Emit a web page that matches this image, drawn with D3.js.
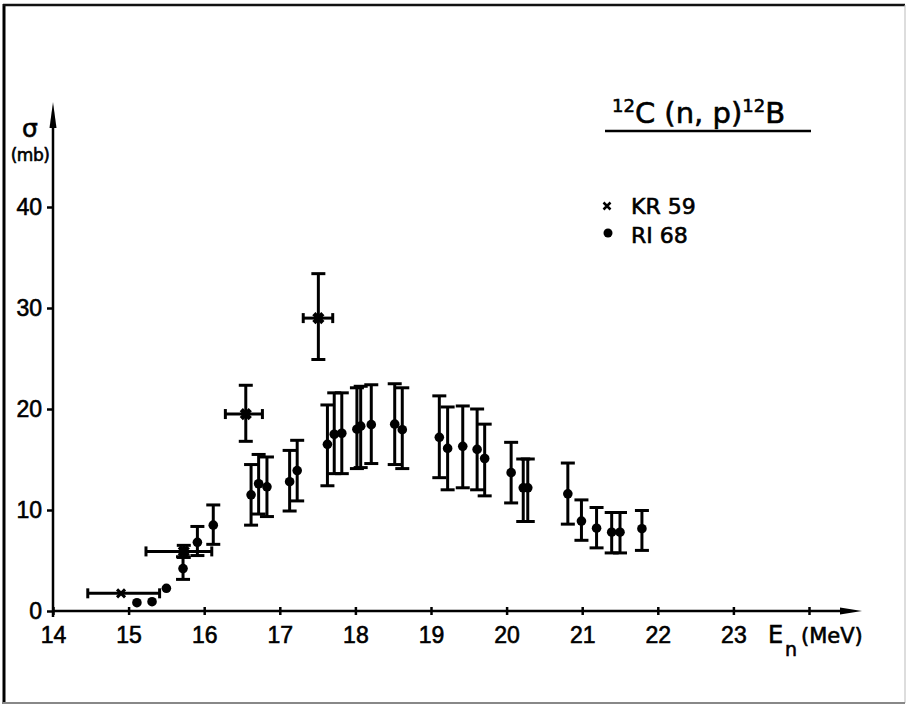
<!DOCTYPE html>
<html>
<head>
<meta charset="utf-8">
<script src="https://cdn.jsdelivr.net/npm/d3@7"></script>
<style>
  html, body { margin: 0; padding: 0; background: #fff; }
  svg { display: block; font-family: "DejaVu Sans", sans-serif; }
  svg text { fill: #000; stroke: #000; stroke-width: 0.6px; }
</style>
</head>
<body>
<svg id="chart" width="907" height="708"></svg>
<script>
// ---- data ----
const xTicks = [14, 15, 16, 17, 18, 19, 20, 21, 22, 23, 24];
const xTickLabels = ["14", "15", "16", "17", "18", "19", "20", "21", "22", "23", ""];
const yTicks = [0, 10, 20, 30, 40];
const yTickLabels = ["0", "10", "20", "30", "40"];

// KR 59 (crosses with energy bins)
const kr59Energy   = [14.90, 15.73, 16.55, 17.51];
const kr59Sigma    = [1.75, 5.9, 19.5, 29.0];
const kr59ELow     = [14.46, 15.23, 16.28, 17.31];
const kr59EHigh    = [15.41, 16.10, 16.77, 17.70];
const kr59SigLow   = [null, 5.3, 16.8, 24.9];
const kr59SigHigh  = [null, 6.5, 22.35, 33.4];

// RI 68 (dots)
const ri68Energy  = [15.11, 15.31, 15.50, 15.72, 15.91, 16.12, 16.62, 16.72, 16.83, 17.13, 17.23,
                     17.63, 17.72, 17.82, 18.02, 18.07, 18.21, 18.52, 18.62, 19.11, 19.22, 19.42,
                     19.61, 19.71, 20.06, 20.22, 20.28, 20.81, 20.99, 21.19, 21.39, 21.50, 21.79];
const ri68Sigma   = [0.82, 0.92, 2.25, 4.2, 6.8, 8.5, 11.5, 12.6, 12.3, 12.8, 13.9,
                     16.5, 17.5, 17.6, 18.0, 18.3, 18.45, 18.5, 17.95, 17.2, 16.1, 16.3,
                     16.0, 15.1, 13.7, 12.2, 12.2, 11.6, 8.9, 8.2, 7.8, 7.8, 8.15];
const ri68SigLow  = [null, null, null, 3.13, 5.49, 6.6, 8.5, 9.6, 9.35, 9.9, 10.9,
                     12.4, 13.6, 13.6, 14.1, 14.2, 14.6, 14.5, 14.1, 13.2, 12.0, 12.2,
                     12.0, 11.4, 10.7, 8.86, 8.86, 8.6, 7.0, 6.25, 5.75, 5.75, 6.0];
const ri68SigHigh = [null, null, null, 5.37, 8.37, 10.5, 14.5, 15.5, 15.25, 15.9, 16.9,
                     20.4, 21.6, 21.6, 22.1, 22.25, 22.4, 22.5, 22.1, 21.3, 20.2, 20.3,
                     20.0, 18.5, 16.7, 15.05, 15.05, 14.65, 11.0, 10.25, 9.75, 9.75, 9.95];

const legendLabels = ["KR 59", "RI 68"];

// ---- drawing ----
const svg = d3.select("#chart");
const x = d3.scaleLinear().domain([14, 24]).range([53, 809]);
const y = d3.scaleLinear().domain([0, 40]).range([611, 207]);

// frame
svg.append("line").attr("x1", 4).attr("x2", 4).attr("y1", 4).attr("y2", 704)
  .attr("stroke", "#000").attr("stroke-width", 3);
svg.append("line").attr("x1", 3).attr("x2", 905).attr("y1", 5).attr("y2", 5)
  .attr("stroke", "#111").attr("stroke-width", 2.5);
svg.append("line").attr("x1", 905).attr("x2", 905).attr("y1", 5).attr("y2", 703)
  .attr("stroke", "#bbb").attr("stroke-width", 1);
svg.append("line").attr("x1", 3).attr("x2", 905).attr("y1", 703).attr("y2", 703)
  .attr("stroke", "#888").attr("stroke-width", 2);

// x axis
const xAxis = d3.axisBottom(x).tickValues(xTicks)
  .tickFormat((d, i) => xTickLabels[i]).tickSizeInner(4).tickSizeOuter(0).tickPadding(10);
const gx = svg.append("g").attr("transform", `translate(0,${y(0)})`).call(xAxis);
gx.select(".domain").remove();
gx.selectAll(".tick line").attr("y1", -4).attr("y2", 4).attr("stroke", "#000").attr("stroke-width", 2.5);
gx.selectAll(".tick text").attr("font-size", 23).attr("dy", null).attr("y", 32);

// y axis
const yAxis = d3.axisLeft(y).tickValues(yTicks)
  .tickFormat((d, i) => yTickLabels[i]).tickSizeInner(6).tickSizeOuter(0).tickPadding(5);
const gy = svg.append("g").attr("transform", `translate(${x(14)},0)`).call(yAxis);
gy.select(".domain").remove();
gy.selectAll(".tick line").attr("stroke", "#000").attr("stroke-width", 2.5);
gy.selectAll(".tick text").attr("font-size", 23);

// axis lines with arrows
svg.append("line").attr("x1", x(14)).attr("x2", 845).attr("y1", y(0)).attr("y2", y(0))
  .attr("stroke", "#000").attr("stroke-width", 2.5);
svg.append("path").attr("d", `M840,${y(0) - 3.5} L862,${y(0)} L840,${y(0) + 3.5} Z`).attr("fill", "#000");
svg.append("line").attr("x1", x(14)).attr("x2", x(14)).attr("y1", y(0) + 6).attr("y2", 120)
  .attr("stroke", "#000").attr("stroke-width", 2.5);
svg.append("path").attr("d", `M${x(14) - 3.5},128 L${x(14)},102 L${x(14) + 3.5},128 Z`).attr("fill", "#000");

// axis titles
svg.append("text").attr("x", 30).attr("y", 137).attr("text-anchor", "middle")
  .attr("font-size", 25).text("σ");
svg.append("text").attr("x", 30).attr("y", 161).attr("text-anchor", "middle")
  .attr("font-size", 17).attr("letter-spacing", -0.5).text("(mb)");
svg.append("text").attr("x", 768).attr("y", 643).attr("font-size", 24).text("E");
svg.append("text").attr("x", 785).attr("y", 656).attr("font-size", 19).text("n");
svg.append("text").attr("x", 801).attr("y", 643).attr("font-size", 21).text("(MeV)");

// title
const title = svg.append("text").attr("x", 612).attr("y", 123).attr("font-size", 29);
title.append("tspan").attr("font-size", 18).attr("dy", -11).text("12");
title.append("tspan").attr("dy", 11).text("C (n, p)");
title.append("tspan").attr("font-size", 18).attr("dy", -11).text("12");
title.append("tspan").attr("dy", 11).text("B");
svg.append("line").attr("x1", 605).attr("x2", 811).attr("y1", 131).attr("y2", 131)
  .attr("stroke", "#000").attr("stroke-width", 2.5);

// error bars
const capW = 7;
const eb = svg.append("g").attr("stroke", "#000").attr("stroke-width", 3).attr("fill", "none");

ri68Energy.forEach((e, i) => {
  if (ri68SigLow[i] == null) return;
  const cx = x(e), y1 = y(ri68SigLow[i]), y2 = y(ri68SigHigh[i]);
  eb.append("line").attr("x1", cx).attr("x2", cx).attr("y1", y1).attr("y2", y2);
  eb.append("line").attr("x1", cx - capW).attr("x2", cx + capW).attr("y1", y1).attr("y2", y1);
  eb.append("line").attr("x1", cx - capW).attr("x2", cx + capW).attr("y1", y2).attr("y2", y2);
});

kr59Energy.forEach((e, i) => {
  const cx = x(e), cy = y(kr59Sigma[i]);
  const xl = x(kr59ELow[i]), xh = x(kr59EHigh[i]);
  eb.append("line").attr("x1", xl).attr("x2", xh).attr("y1", cy).attr("y2", cy);
  eb.append("line").attr("x1", xl).attr("x2", xl).attr("y1", cy - 5).attr("y2", cy + 5);
  eb.append("line").attr("x1", xh).attr("x2", xh).attr("y1", cy - 5).attr("y2", cy + 5);
  if (kr59SigLow[i] != null) {
    const y1 = y(kr59SigLow[i]), y2 = y(kr59SigHigh[i]);
    eb.append("line").attr("x1", cx).attr("x2", cx).attr("y1", y1).attr("y2", y2);
    eb.append("line").attr("x1", cx - capW).attr("x2", cx + capW).attr("y1", y1).attr("y2", y1);
    eb.append("line").attr("x1", cx - capW).attr("x2", cx + capW).attr("y1", y2).attr("y2", y2);
  }
});

// markers
svg.append("g").selectAll("circle").data(ri68Energy).join("circle")
  .attr("cx", d => x(d)).attr("cy", (d, i) => y(ri68Sigma[i])).attr("r", 4.8).attr("fill", "#000");

const crossPath = s => `M${-s},${-s} L${s},${s} M${-s},${s} L${s},${-s}`;
svg.append("g").selectAll("path").data(kr59Energy).join("path")
  .attr("transform", (d, i) => `translate(${x(d)},${y(kr59Sigma[i])})`)
  .attr("d", (d, i) => crossPath(i === 0 ? 4 : 4.5))
  .attr("stroke", "#000").attr("stroke-width", (d, i) => i === 0 ? 3 : 4.5).attr("fill", "none");

// legend
const lg = svg.append("g");
lg.append("path").attr("transform", "translate(607,206)").attr("d", crossPath(3.5))
  .attr("stroke", "#000").attr("stroke-width", 2.5);
lg.append("circle").attr("cx", 608).attr("cy", 233).attr("r", 4.5).attr("fill", "#000");
lg.append("text").attr("x", 631).attr("y", 214).attr("font-size", 22).text(legendLabels[0]);
lg.append("text").attr("x", 631).attr("y", 243).attr("font-size", 22).text(legendLabels[1]);
</script>
</body>
</html>
